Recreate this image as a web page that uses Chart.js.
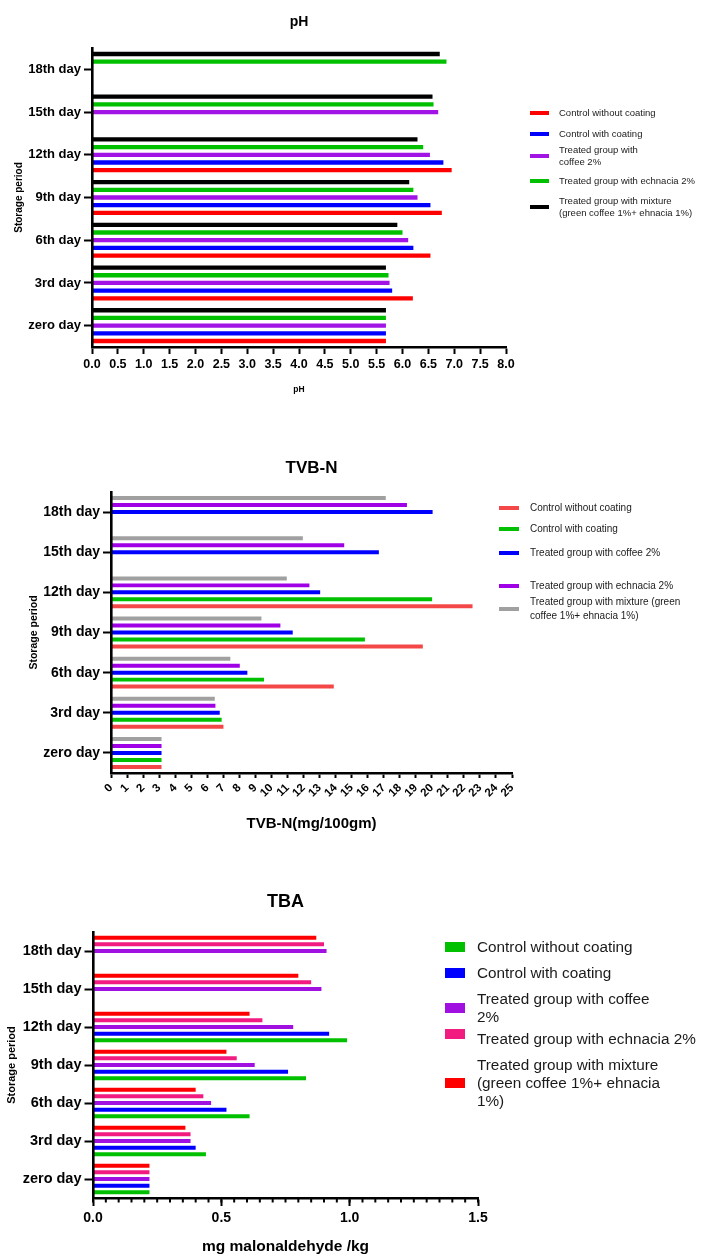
<!DOCTYPE html>
<html>
<head>
<meta charset="utf-8">
<script src="https://cdn.jsdelivr.net/npm/chart.js@4.4.1/dist/chart.umd.min.js"></script>
<style>
  html, body { margin: 0; padding: 0; background: #fff; }
  body { width: 702px; height: 1256px; position: relative; overflow: hidden;
         font-family: "Liberation Sans", Arial, sans-serif; }
  .panel { position: absolute; left: 0; width: 702px; }
  .panel canvas { position: absolute; left: 0; top: 0; }
  .legend { position: absolute; color: #1a1a1a; }
  .legend .item { position: absolute; left: 0; display: flex; align-items: center; white-space: nowrap; }
  .legend .mark { flex: none; }
</style>
</head>
<body>
<div class="panel" id="p1" style="top:0;height:420px">
  <canvas id="c1" width="702" height="420"></canvas>
  <div class="legend" id="l1" style="left:530px;top:0"></div>
</div>
<div class="panel" id="p2" style="top:440px;height:410px">
  <canvas id="c2" width="702" height="410"></canvas>
  <div class="legend" id="l2" style="left:499px;top:0"></div>
</div>
<div class="panel" id="p3" style="top:860px;height:396px">
  <canvas id="c3" width="702" height="396"></canvas>
  <div class="legend" id="l3" style="left:445px;top:0"></div>
</div>

<script>
// Storage days, listed top to bottom as drawn on the category axis
const days = ['18th day', '15th day', '12th day', '9th day', '6th day', '3rd day', 'zero day'];

// ---- pH ----
const phControlNoCoat = [null, null, 6.95, 6.76, 6.54, 6.20, 5.68];
const phControlCoat   = [null, null, 6.79, 6.54, 6.21, 5.80, 5.68];
const phCoffee        = [null, 6.69, 6.53, 6.29, 6.11, 5.75, 5.68];
const phEchinacea     = [6.85, 6.60, 6.40, 6.21, 6.00, 5.73, 5.68];
const phMixture       = [6.72, 6.58, 6.29, 6.13, 5.90, 5.68, 5.68];
const phTicks = ['0.0','0.5','1.0','1.5','2.0','2.5','3.0','3.5','4.0','4.5','5.0','5.5','6.0','6.5','7.0','7.5','8.0'];

// ---- TVB-N (mg/100gm) ----
const tvbControlNoCoat = [null, null, 22.54, 19.44, 13.89, 7.01, 3.15];
const tvbControlCoat   = [null, null, 20.02, 15.83, 9.54, 6.90, 3.15];
const tvbCoffee        = [20.05, 16.70, 13.04, 11.33, 8.50, 6.78, 3.15];
const tvbEchinacea     = [18.45, 14.54, 12.37, 10.56, 8.03, 6.51, 3.15];
const tvbMixture       = [17.13, 11.96, 10.96, 9.38, 7.44, 6.47, 3.15];
const tvbTicks = ['0','1','2','3','4','5','6','7','8','9','10','11','12','13','14','15','16','17','18','19','20','21','22','23','24','25'];

// ---- TBA (mg malonaldehyde /kg) ----
const tbaControlNoCoat = [null, null, 0.99, 0.83, 0.61, 0.44, 0.22];
const tbaControlCoat   = [null, null, 0.92, 0.76, 0.52, 0.40, 0.22];
const tbaCoffee        = [0.91, 0.89, 0.78, 0.63, 0.46, 0.38, 0.22];
const tbaEchinacea     = [0.90, 0.85, 0.66, 0.56, 0.43, 0.38, 0.22];
const tbaMixture       = [0.87, 0.80, 0.61, 0.52, 0.40, 0.36, 0.22];
const tbaTicks = ['0.0','0.5','1.0','1.5'];

// Legend wording per panel (line breaks as printed)
const phNames = [
  ['Control without coating'],
  ['Control with coating'],
  ['Treated group with', 'coffee 2%'],
  ['Treated group with echnacia 2%'],
  ['Treated group with mixture', '(green coffee 1%+ ehnacia 1%)']
];
const tvbNames = [
  ['Control without coating'],
  ['Control with coating'],
  ['Treated group with coffee 2%'],
  ['Treated group with echnacia 2%'],
  ['Treated group with mixture (green', 'coffee 1%+ ehnacia 1%)']
];
const tbaNames = [
  ['Control without coating'],
  ['Control with coating'],
  ['Treated group with coffee', '2%'],
  ['Treated group with echnacia 2%'],
  ['Treated group with mixture', '(green coffee 1%+ ehnacia', '1%)']
];

const FONT = '"Liberation Sans", Arial, sans-serif';

// Titles for the panel and its two axes
const panelText = {
  id: 'panelText',
  afterDraw(chart, args, o) {
    const { ctx, chartArea: a } = chart;
    const cx = (a.left + a.right) / 2, cy = (a.top + a.bottom) / 2;
    ctx.save();
    ctx.fillStyle = '#000';
    ctx.textAlign = 'center';
    ctx.textBaseline = 'middle';
    ctx.font = `bold ${o.titleSize}px ${FONT}`;
    ctx.fillText(o.title, cx, o.titleY);
    ctx.font = `bold ${o.xTitleSize}px ${FONT}`;
    ctx.fillText(o.xTitle, cx, o.xTitleY);
    ctx.translate(o.yTitleX, cy);
    ctx.rotate(-Math.PI / 2);
    ctx.font = `bold ${o.yTitleSize}px ${FONT}`;
    ctx.fillText(o.yTitle, 0, 0);
    ctx.restore();
  }
};

// Short unlabelled ticks between the labelled ones on the value axis
const minorTicks = {
  id: 'minorTicks',
  afterDraw(chart, args, o) {
    if (!o.count) return;
    const x = chart.scales.x, ctx = chart.ctx;
    ctx.save();
    ctx.strokeStyle = '#000';
    ctx.lineWidth = o.width;
    for (let i = 0; i <= o.count; i++) {
      const v = x.min + (x.max - x.min) * i / o.count;
      const px = x.getPixelForValue(v);
      ctx.beginPath();
      ctx.moveTo(px, x.top);
      ctx.lineTo(px, x.top + o.length);
      ctx.stroke();
    }
    ctx.restore();
  }
};

function buildLegend(el, names, colors, rows, style) {
  names.forEach((lines, i) => {
    const item = document.createElement('div');
    item.className = 'item';
    item.style.top = rows[i] + 'px';
    item.style.fontSize = style.fontSize + 'px';
    item.style.lineHeight = style.lineHeight + 'px';
    const mark = document.createElement('div');
    mark.className = 'mark';
    mark.style.width = style.markW + 'px';
    mark.style.height = style.markH + 'px';
    mark.style.background = colors[i];
    mark.style.marginRight = style.gap + 'px';
    mark.style.marginTop = (style.markShift || [])[i] ? style.markShift[i] + 'px' : '0';
    const txt = document.createElement('div');
    txt.innerHTML = lines.join('<br>');
    item.appendChild(mark);
    item.appendChild(txt);
    el.appendChild(item);
  });
}

function makePanel(cfg) {
  // series are given in legend order; bars are stacked in each group from the bottom up
  const ordered = cfg.series.slice().reverse();
  return new Chart(document.getElementById(cfg.canvas), {
    type: 'bar',
    data: {
      labels: days,
      datasets: ordered.map(s => ({
        label: s.name.join(' '),
        data: s.data,
        backgroundColor: s.color,
        borderWidth: 0,
        categoryPercentage: cfg.catPct,
        barPercentage: cfg.barPct
      }))
    },
    plugins: [panelText, minorTicks],
    options: {
      indexAxis: 'y',
      responsive: false,
      animation: false,
      events: [],
      layout: { padding: cfg.padding },
      plugins: {
        legend: { display: false },
        tooltip: { enabled: false },
        title: { display: false },
        panelText: cfg.text,
        minorTicks: cfg.minor || {}
      },
      scales: {
        x: {
          type: 'linear',
          min: cfg.xMin, max: cfg.xMax,
          afterFit: s => { s.height = cfg.xHeight; },
          afterBuildTicks: s => {
            s.ticks = cfg.xTicks.map(t => ({ value: parseFloat(t) }));
          },
          grid: { display: true, drawOnChartArea: false, drawTicks: true,
                  tickLength: cfg.xTickLen, tickWidth: 2, tickColor: '#000' },
          border: { display: true, color: '#000', width: 2.6, z: 1 },
          ticks: {
            color: '#000',
            autoSkip: false,
            padding: cfg.xTickPad,
            maxRotation: cfg.xRot, minRotation: cfg.xRot,
            font: { family: FONT, size: cfg.xTickSize, weight: 'bold' },
            callback: (v, i) => cfg.xTicks[i]
          }
        },
        y: {
          type: 'category',
          afterFit: s => { s.width = cfg.yWidth; },
          grid: { display: true, drawOnChartArea: false, drawTicks: true, offset: false,
                  tickLength: cfg.yTickLen, tickWidth: 2, tickColor: '#000' },
          border: { display: true, color: '#000', width: 2.6, z: 1 },
          ticks: {
            color: '#000',
            padding: 3,
            font: { family: FONT, size: cfg.yTickSize, weight: 'bold' }
          }
        }
      }
    }
  });
}

// ---- pH panel ----
const phSeries = [
  { name: phNames[0], data: phControlNoCoat, color: '#ff0000' },
  { name: phNames[1], data: phControlCoat,   color: '#0000ff' },
  { name: phNames[2], data: phCoffee,        color: '#a214e6' },
  { name: phNames[3], data: phEchinacea,     color: '#00c000' },
  { name: phNames[4], data: phMixture,       color: '#000000' }
];
makePanel({
  canvas: 'c1', series: phSeries,
  padding: { left: 0, top: 48, right: 196, bottom: 0 },
  yWidth: 92, xHeight: 73,
  xMin: 0, xMax: 8, xTicks: phTicks, xRot: 0, xTickLen: 7, xTickPad: 3, xTickSize: 12.5,
  yTickLen: 8, yTickSize: 13,
  catPct: 0.9, barPct: 0.56,
  text: { title: 'pH', titleSize: 14, titleY: 22,
          xTitle: 'pH', xTitleSize: 8.5, xTitleY: 390,
          yTitle: 'Storage period', yTitleSize: 10, yTitleX: 19 }
});
buildLegend(document.getElementById('l1'), phNames, phSeries.map(s => s.color),
  [107, 128, 144, 175, 194.5],
  { fontSize: 9.5, lineHeight: 12, markW: 19, markH: 4, gap: 10 });

// ---- TVB-N panel ----
const tvbSeries = [
  { name: tvbNames[0], data: tvbControlNoCoat, color: '#f44848' },
  { name: tvbNames[1], data: tvbControlCoat,   color: '#00c000' },
  { name: tvbNames[2], data: tvbCoffee,        color: '#0000ff' },
  { name: tvbNames[3], data: tvbEchinacea,     color: '#a000e6' },
  { name: tvbNames[4], data: tvbMixture,       color: '#a0a0a0' }
];
makePanel({
  canvas: 'c2', series: tvbSeries,
  padding: { left: 0, top: 52, right: 190, bottom: 0 },
  yWidth: 111, xHeight: 77,
  xMin: 0, xMax: 25, xTicks: tvbTicks, xRot: 45, xTickLen: 5, xTickPad: 3, xTickSize: 11.5,
  yTickLen: 8, yTickSize: 14,
  catPct: 0.87, barPct: 0.57,
  text: { title: 'TVB-N', titleSize: 17, titleY: 28,
          xTitle: 'TVB-N(mg/100gm)', xTitleSize: 15, xTitleY: 384,
          yTitle: 'Storage period', yTitleSize: 10.5, yTitleX: 34 }
});
buildLegend(document.getElementById('l2'), tvbNames, tvbSeries.map(s => s.color),
  [61, 82, 106, 139, 154.7],
  { fontSize: 10, lineHeight: 14, markW: 20, markH: 4, gap: 11 });

// ---- TBA panel ----
const tbaSeries = [
  { name: tbaNames[0], data: tbaControlNoCoat, color: '#00c000' },
  { name: tbaNames[1], data: tbaControlCoat,   color: '#0000ff' },
  { name: tbaNames[2], data: tbaCoffee,        color: '#a010e0' },
  { name: tbaNames[3], data: tbaEchinacea,     color: '#f21c80' },
  { name: tbaNames[4], data: tbaMixture,       color: '#ff0000' }
];
makePanel({
  canvas: 'c3', series: tbaSeries,
  padding: { left: 0, top: 72, right: 224, bottom: 0 },
  yWidth: 93, xHeight: 58,
  xMin: 0, xMax: 1.5, xTicks: tbaTicks, xRot: 0, xTickLen: 8, xTickPad: 4, xTickSize: 14,
  yTickLen: 8.5, yTickSize: 14.5,
  catPct: 0.875, barPct: 0.6,
  minor: { count: 30, length: 4.5, width: 2 },
  text: { title: 'TBA', titleSize: 18, titleY: 42,
          xTitle: 'mg malonaldehyde /kg', xTitleSize: 15.5, xTitleY: 387,
          yTitle: 'Storage period', yTitleSize: 11, yTitleX: 12 }
});
buildLegend(document.getElementById('l3'), tbaNames, tbaSeries.map(s => s.color),
  [77.7, 103.7, 130, 170, 196],
  { fontSize: 15.3, lineHeight: 18, markW: 20, markH: 10, gap: 12, markShift: [0, 0, 0, -10, 0] });
</script>
</body>
</html>
